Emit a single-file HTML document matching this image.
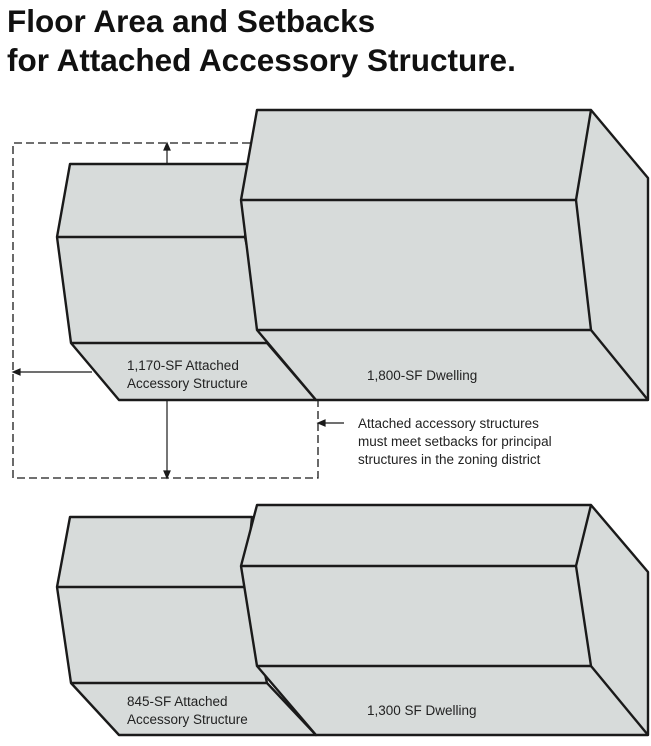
<!DOCTYPE html>
<html><head><meta charset="utf-8"><style>
body{margin:0;background:#fff;}
svg{display:block;}
text{font-family:"Liberation Sans",Arial,sans-serif;}
</style></head><body>
<svg width="651" height="746" viewBox="0 0 651 746" xmlns="http://www.w3.org/2000/svg">
<text x="7" y="32" font-size="31.5" font-weight="bold" fill="#111">Floor Area and Setbacks</text>
<text x="7" y="71" font-size="31.5" font-weight="bold" fill="#111">for Attached Accessory Structure.</text>

<g stroke="#1a1a1a" stroke-width="1.3" fill="none" stroke-dasharray="8,4">
<polyline points="250,143 13,143 13,478 318,478 318,400"/>
</g>

<g fill="#d7dbda" stroke="#1a1a1a" stroke-width="2.4" stroke-linejoin="round">
<polygon points="70,164 252,164 245,237 267,343 316,400 119,400 71,343 57,237"/>
<line x1="57" y1="237" x2="250" y2="237"/>
<line x1="71" y1="343" x2="267" y2="343"/>
<polygon points="257,110 591,110 648,178 648,400 316,400 257,330 241,200"/>
<line x1="241" y1="200" x2="576" y2="200"/>
<line x1="257" y1="330" x2="591" y2="330"/>
<polyline fill="none" points="591,110 576,200 591,330 648,400"/>
</g>

<g stroke="#1a1a1a" stroke-width="1.2" fill="#1a1a1a">
<line x1="167" y1="164" x2="167" y2="148"/><polygon points="167,143 164,150 170,150"/>
<line x1="167" y1="400" x2="167" y2="473"/><polygon points="167,478 164,471 170,471"/>
<line x1="92" y1="372" x2="18" y2="372"/><polygon points="13,372 20,369 20,375"/>
<line x1="344" y1="423" x2="323" y2="423"/><polygon points="318,423 325,420 325,426"/>
</g>

<g font-size="13.5" fill="#222">
<text x="127" y="370">1,170-SF Attached</text>
<text x="127" y="388">Accessory Structure</text>
<text x="367" y="380">1,800-SF Dwelling</text>
<text x="358" y="428">Attached accessory structures</text>
<text x="358" y="446">must meet setbacks for principal</text>
<text x="358" y="464">structures in the zoning district</text>
</g>

<g fill="#d7dbda" stroke="#1a1a1a" stroke-width="2.4" stroke-linejoin="round">
<polygon points="70,517 252,517 245,587 267,683 316,735 119,735 71,683 57,587"/>
<line x1="57" y1="587" x2="250" y2="587"/>
<line x1="71" y1="683" x2="267" y2="683"/>
<polygon points="257,505 591,505 648,572 648,735 316,735 257,666 241,566"/>
<line x1="241" y1="566" x2="576" y2="566"/>
<line x1="257" y1="666" x2="591" y2="666"/>
<polyline fill="none" points="591,505 576,566 591,666 648,735"/>
</g>
<g font-size="13.5" fill="#222">
<text x="127" y="706">845-SF Attached</text>
<text x="127" y="724">Accessory Structure</text>
<text x="367" y="715">1,300 SF Dwelling</text>
</g>
</svg>
</body></html>
